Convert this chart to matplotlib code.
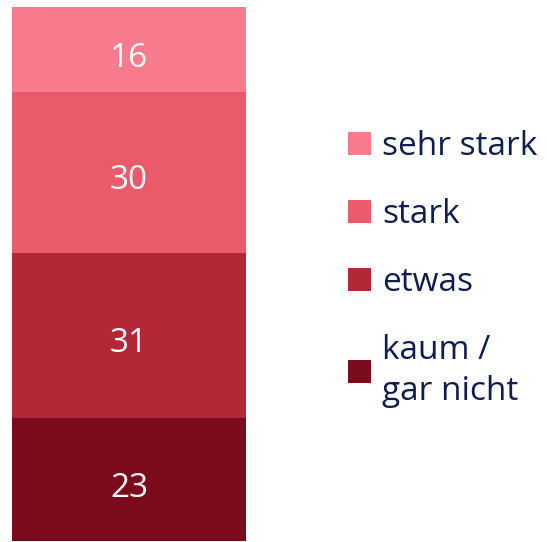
import matplotlib
matplotlib.use("Agg")
import matplotlib.pyplot as plt

categories = ["kaum /\ngar nicht", "etwas", "stark", "sehr stark"]
values = [23, 31, 30, 16]
colors = ["#7B0A1C", "#B42737", "#EB5A6B", "#F77B8C"]
text_color = "#0F1E4E"

plt.rcParams['font.family'] = ['Open Sans', 'DejaVu Sans']

fig = plt.figure(figsize=(5.47, 5.42), dpi=100)
W, H = 547, 542
ax = fig.add_axes([12 / W, (H - 541) / H, (246 - 12) / W, (541 - 7) / H])

bottom = 0
bars = []
for cat, val, col in zip(categories, values, colors):
    b = ax.bar(0, val, bottom=bottom, width=1.0, color=col, label=cat, linewidth=0)
    bars.append(b)
    ax.annotate(str(val), xy=(0, bottom + val / 2), xytext=(0, -3.2),
                textcoords="offset points", ha="center", va="center_baseline",
                color="white", fontsize=24)
    bottom += val

ax.set_xlim(-0.5, 0.5)
ax.set_ylim(0, sum(values))
ax.axis("off")

handles = bars[::-1]
labels = categories[::-1]
leg = fig.legend(handles, labels, loc="center left",
                 bbox_to_anchor=(348 / W, 1 - 269 / H),
                 frameon=False, fontsize=24, labelcolor=text_color,
                 handlelength=0.68, handleheight=0.68, handletextpad=0.35,
                 labelspacing=1.05, borderpad=0, borderaxespad=0)
for t in leg.get_texts():
    t.set_linespacing(1.3)

fig.savefig("out.png", dpi=100)
